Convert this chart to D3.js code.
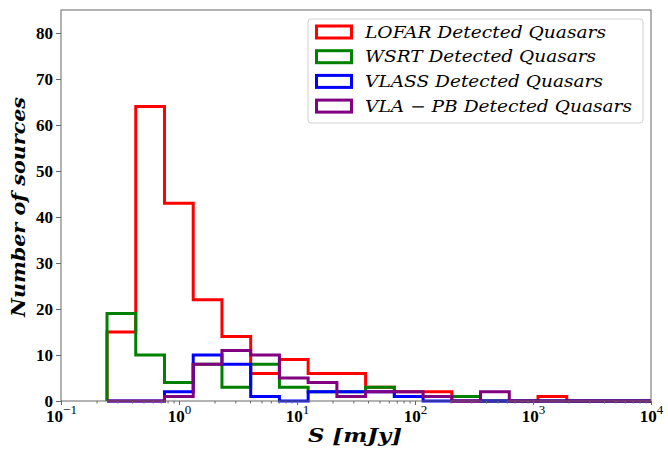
<!DOCTYPE html>
<html>
<head>
<meta charset="utf-8">
<script src="https://cdn.jsdelivr.net/npm/d3@7"></script>
<style>
  body { margin: 0; background: #fff; }
  svg { display: block; }
  .axis path, .axis line { stroke: #666; }
  .axis text { font-family: "Liberation Serif", serif; font-weight: bold; font-size: 17px; fill: #000; }
</style>
</head>
<body>
<script>
// bin grid (log10 of first edge and width in dex), counts per bin
var binStart = -0.610, binStep = 0.2435, nBins = 19

var series = ["LOFAR", "WSRT", "VLASS", "VLA-PB"]
var legendLabels = ["LOFAR Detected Quasars", "WSRT Detected Quasars", "VLASS Detected Quasars", "VLA \u2212 PB Detected Quasars"]
var colors = ["#ff0000", "#008000", "#0000ff", "#800080"]

var lofar  = [15, 64, 43, 22, 14, 6, 9, 6, 6, 3, 2, 2, 0, 0, 0, 1, 0, 0, 0]
var wsrt   = [19, 10, 4, 8, 3, 8, 3, 2, 2, 3, 1, 1, 1, 0, 0, 0, 0, 0, 0]
var vlass  = [0, 0, 2, 10, 8, 1, 0, 2, 2, 2, 1, 0, 0, 0, 0, 0, 0, 0, 0]
var vlapb  = [0, 0, 1, 8, 11, 10, 5, 4, 1, 2, 2, 1, 0, 2, 0, 0, 0, 0, 0]

var yTicks = [0, 10, 20, 30, 40, 50, 60, 70, 80]
var xTicks = [-1, 0, 1, 2, 3, 4]

var counts = [lofar, wsrt, vlass, vlapb]
var edges = d3.range(nBins + 1).map(function(k){ return Math.pow(10, binStart + binStep * k) })

var W = 668, H = 449
var margin = {top: 10, right: 17, bottom: 48, left: 61}
var width = W - margin.left - margin.right,
    height = H - margin.top - margin.bottom

var svg = d3.select("body").append("svg")
    .attr("width", W)
    .attr("height", H)

var g = svg.append("g")
    .attr("transform", "translate(" + margin.left + "," + margin.top + ")")

var x = d3.scaleLog().domain([0.1, 1e4]).range([0, width])
var y = d3.scaleLinear().domain([0, 85]).range([height, 0])

g.append("defs").append("clipPath").attr("id", "clip")
  .append("rect").attr("x", 0).attr("y", -5).attr("width", width).attr("height", height + 10)

// histograms (step outlines)
var line = d3.line()
counts.forEach(function(vals, i){
  var pts = [[x(edges[0]), y(0)]]
  vals.forEach(function(v, j){
    pts.push([x(edges[j]), y(v)])
    pts.push([x(edges[j + 1]), y(v)])
  })
  pts.push([x(edges[nBins]), y(0)])
  g.append("path")
      .attr("clip-path", "url(#clip)")
      .attr("d", line(pts))
      .attr("fill", "none")
      .attr("stroke", colors[i])
      .attr("stroke-width", 3)
      .attr("stroke-linejoin", "miter")
})

// frame
g.append("rect")
    .attr("width", width).attr("height", height)
    .attr("fill", "none").attr("stroke", "#666").attr("stroke-width", 1)

// y axis
g.append("g").attr("class", "axis")
    .call(d3.axisLeft(y).tickValues(yTicks).tickSize(5).tickPadding(3).tickFormat(d3.format("d")))
    .call(function(s){ s.select(".domain").remove() })

// x axis minor ticks
var minor = []
xTicks.slice(0, -1).forEach(function(e){
  d3.range(2, 10).forEach(function(m){ minor.push(m * Math.pow(10, e)) })
})
g.append("g").attr("class", "axis")
    .attr("transform", "translate(0," + height + ")")
    .call(d3.axisBottom(x).tickValues(minor).tickSize(2.5).tickFormat(""))
    .call(function(s){ s.select(".domain").remove() })

// x axis major ticks with 10^n labels
var xa = g.append("g").attr("class", "axis")
    .attr("transform", "translate(0," + height + ")")
    .call(d3.axisBottom(x).tickValues(xTicks.map(function(e){ return Math.pow(10, e) })).tickSize(4).tickFormat(""))
xa.select(".domain").remove()
xa.selectAll(".tick").each(function(d, i){
  var t = d3.select(this).append("text")
      .attr("y", 21)
      .attr("text-anchor", "middle")
  t.append("tspan").text("10")
  t.append("tspan").attr("dy", -8).style("font-size", "13px").style("font-weight", "normal")
      .text(xTicks[i] < 0 ? "\u2212" + Math.abs(xTicks[i]) : xTicks[i])
})

// axis titles
svg.append("text")
    .attr("transform", "translate(25,207) rotate(-90)")
    .attr("text-anchor", "middle")
    .attr("textLength", 220).attr("lengthAdjust", "spacingAndGlyphs")
    .style("font-family", "'DejaVu Serif', serif").style("font-weight", "bold").style("font-style", "italic")
    .style("font-size", "19px")
    .text("Number of sources")

svg.append("text")
    .attr("x", 355).attr("y", 442)
    .attr("text-anchor", "middle")
    .attr("textLength", 94).attr("lengthAdjust", "spacingAndGlyphs")
    .style("font-family", "'DejaVu Serif', serif").style("font-weight", "bold").style("font-style", "italic")
    .style("font-size", "19px")
    .text("S [mJy]")

// legend
var lg = svg.append("g").attr("transform", "translate(308,19)")
lg.append("rect")
    .attr("width", 335).attr("height", 104).attr("rx", 3)
    .attr("fill", "#fff").attr("fill-opacity", 0.8)
    .attr("stroke", "#d0d0d0").attr("stroke-width", 1)
var textLens = [241, 231, 238, 267]
series.forEach(function(s, i){
  var row = lg.append("g").attr("transform", "translate(0," + (12.5 + i * 24.7) + ")")
  row.append("rect")
      .attr("x", 8.5).attr("y", -5.5).attr("width", 35).attr("height", 12)
      .attr("fill", "#fff").attr("stroke", colors[i]).attr("stroke-width", 3)
  row.append("text")
      .attr("x", 57).attr("y", 6)
      .attr("textLength", textLens[i]).attr("lengthAdjust", "spacingAndGlyphs")
      .style("font-family", "'DejaVu Serif', serif").style("font-style", "italic")
      .style("font-size", "16px")
      .text(legendLabels[i])
})
</script>
</body>
</html>
